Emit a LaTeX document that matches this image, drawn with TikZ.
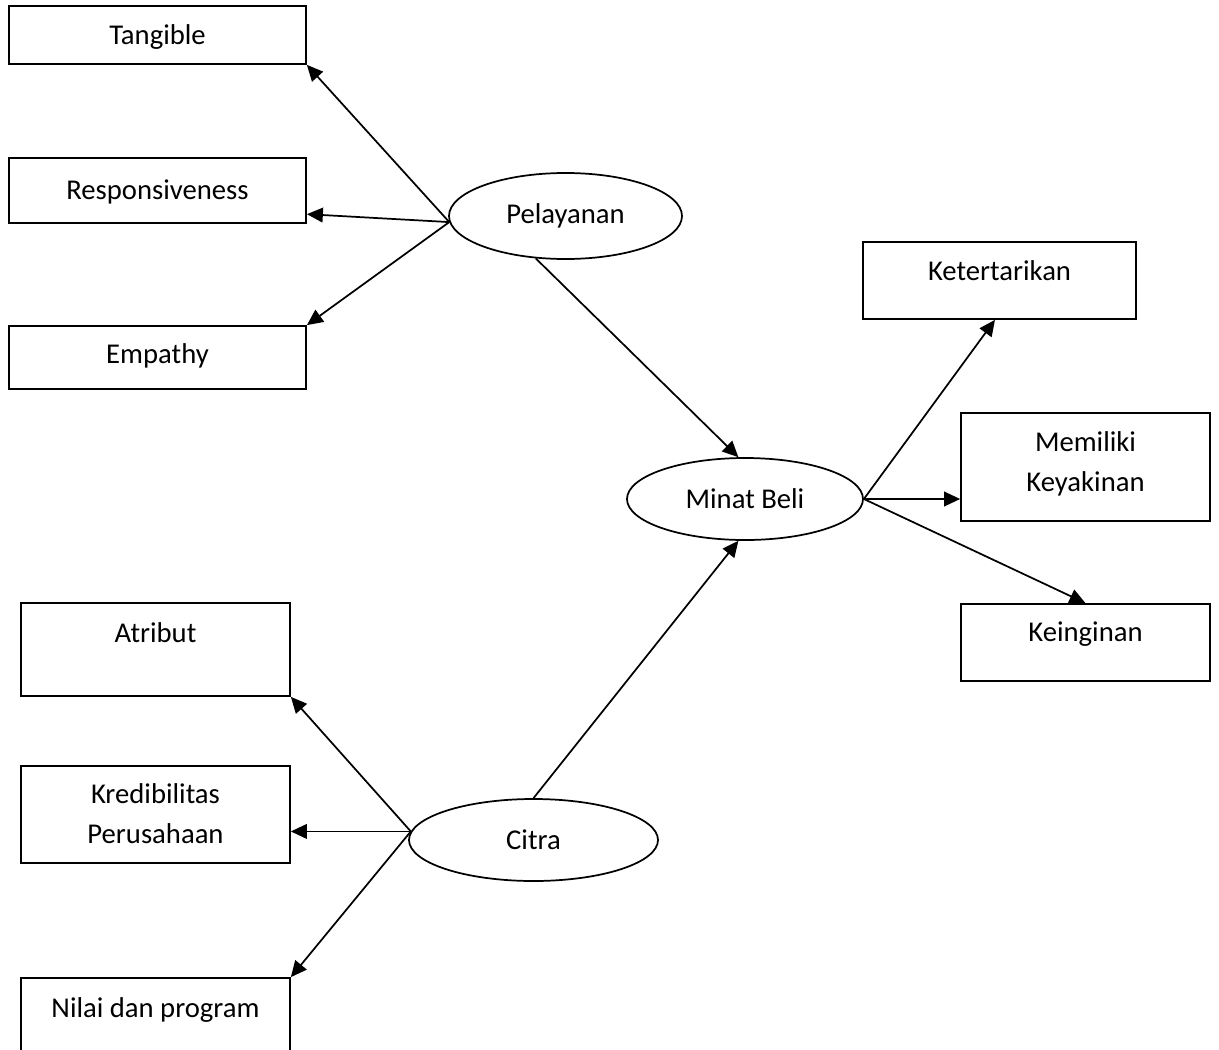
\documentclass[tikz,border=0pt]{standalone}
\usepackage{fontspec}
\setmainfont{Carlito}
\usetikzlibrary{shapes.geometric,arrows.meta,fit}
\begin{document}
\begin{tikzpicture}[x=0.75pt,y=-0.75pt,
  every node/.style={font=\fontsize{21.5}{30}\selectfont},
  box/.style={draw, rectangle, inner sep=0pt, line width=1.3pt},
  oval/.style={draw, ellipse, inner sep=0pt, line width=1.3pt},
  lbl/.style={anchor=base, inner sep=0pt},
  arr/.style={line width=1.3pt, -{Triangle[length=12pt,width=11pt]}}]
\useasboundingbox (0,0) rectangle (1219,1049);
\fill[white] (0,0) rectangle (1219,1049);
% left boxes (Pelayanan)
\node[box, fit={(9,6) (306,64)}] (tang) {};
\node[box, fit={(9,158) (306,223)}] (resp) {};
\node[box, fit={(9,326) (306,389)}] (emp) {};
\node[lbl] (tangT) at (157.5,45) {Tangible};
\node[lbl] (respT) at (157.5,199) {Responsiveness};
\node[lbl] (empT) at (157.5,363) {Empathy};
% right boxes (Minat Beli)
\node[box, fit={(863,242) (1136,319)}] (ket) {};
\node[box, fit={(961,413) (1210,521)}] (kyk) {};
\node[box, fit={(961,604) (1210,681)}] (kei) {};
\node[lbl] (ketT) at (999.5,280) {Ketertarikan};
\node[lbl] (kykT1) at (1085.5,451) {Memiliki};
\node[lbl] (kykT2) at (1085.5,491) {Keyakinan};
\node[lbl] (keiT) at (1085.5,641) {Keinginan};
% left boxes (Citra)
\node[box, fit={(21,603) (290,696)}] (atr) {};
\node[box, fit={(21,766) (290,863)}] (kred) {};
\begin{scope}
\clip (0,0) rectangle (1219,1049);
\node[box, fit={(21,978) (290,1090)}] (nil) {};
\end{scope}
\node[lbl] (atrT) at (155.5,642) {Atribut};
\node[lbl] (kredT1) at (155.5,803) {Kredibilitas};
\node[lbl] (kredT2) at (155.5,843) {Perusahaan};
\node[lbl] (nilT) at (155.5,1017) {Nilai dan program};
% ellipses
\node[oval, minimum width=174.75pt, minimum height=64.5pt] (pel) at (565.5,216) {Pelayanan};
\node[oval, minimum width=177pt, minimum height=61.5pt] (mb) at (745,499) {Minat Beli};
\node[oval, minimum width=186.75pt, minimum height=61.5pt] (cit) at (533.5,840) {Citra};
% connectors
\draw[arr] (pel.183) -- (tang.south east);
\draw[arr] (pel.183) -- (resp.-9);
\draw[arr] (pel.183) -- (emp.north east);
\draw[arr] (pel.235) -- (mb.99);
\draw[arr] (cit.north) -- (mb.261);
\draw[arr] (mb.east) -- ([xshift=-3.4pt]ket.south);
\draw[arr] (mb.east) -- (mb.east -| kyk.west);
\draw[arr] (mb.east) -- (kei.north);
\draw[arr] (cit.176) -- (atr.south east);
\draw[arr] (cit.176) -- (cit.176 -| kred.east);
\draw[arr] (cit.176) -- (nil.north east);
\end{tikzpicture}
\end{document}
